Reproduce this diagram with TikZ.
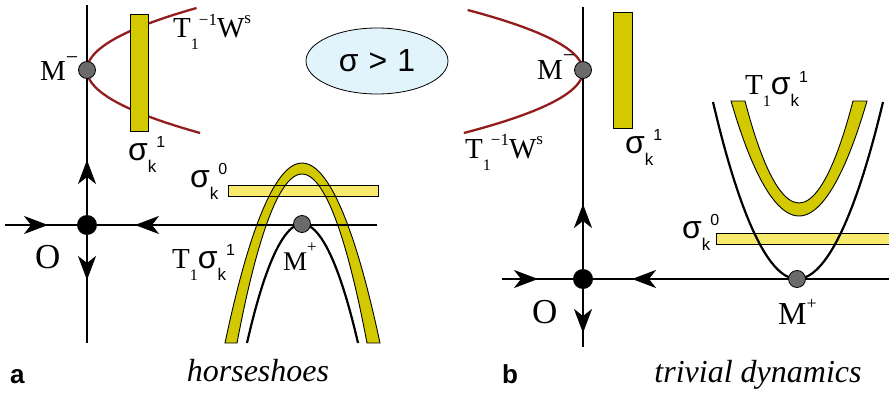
\documentclass[tikz,border=0pt]{standalone}
\usepackage{fontspec}
\setmainfont{Liberation Serif}
\setsansfont{Liberation Sans}
\usetikzlibrary{arrows.meta, shapes.geometric}

\definecolor{hsyellow}{HTML}{D3C900}
\definecolor{baryellow}{HTML}{F8EA6C}
\definecolor{wsred}{HTML}{931C1C}
\definecolor{fixgray}{HTML}{6B6B6B}
\definecolor{condblue}{HTML}{E1F3FB}

\newcommand{\fsz}[1]{\fontsize{#1}{#1}\selectfont}
\newcommand{\sigk}[1]{{\sffamily\fsz{32}σ}\raisebox{-12pt}{\sffamily\fsz{17}k}\raisebox{13pt}{\sffamily\fsz{16}#1}}
\newcommand{\Tone}{{\fsz{29}T}\raisebox{-12pt}{\fsz{16}1}}
\newcommand{\invW}{\Tone\raisebox{13pt}{\fsz{17}−1}{\fsz{29}W}\raisebox{14pt}{\fsz{17}s}}

\begin{document}
\begin{tikzpicture}[x=1pt, y=-1pt, axis/.style={line width=2.4pt}, flow/.style={-{Stealth[length=24pt,width=18pt,inset=7pt]}, line width=2.4pt},
  dot/.style={circle, fill=black, inner sep=0, minimum size=20pt}, fixpt/.style={circle, fill=fixgray, draw=black, line width=0.8pt, inner sep=0, minimum size=17pt},
  wsline/.style={wsred, line width=2.3pt}, curve/.style={line width=2.2pt}, strip/.style={fill=hsyellow, draw=black, line width=0.9pt}, bar/.style={fill=baryellow, draw=black, line width=0.9pt},
  lbl/.style={inner sep=0, anchor=base west}, cond/.style={ellipse, draw=black, line width=0.8pt, fill=condblue, minimum width=142pt, minimum height=66pt, font=\sffamily\fsz{32}},
  caption/.style={inner sep=0, anchor=base, font=\itshape\fsz{32}}, panel/.style={inner sep=0, anchor=base west, font=\sffamily\bfseries\fsz{26}}]
\useasboundingbox (0,0) rectangle (889,396);

% a: horseshoes
\coordinate (Ta) at (87,5); \coordinate (Ba) at (87,343); \coordinate (La) at (5,225); \coordinate (Ra) at (377,225);
\draw[wsline] plot[domain=8:133, samples=50] ({87+0.0285*(\x-70)^2}, \x);
\filldraw[strip] (130,14) rectangle (148,131);
\filldraw[bar] (228,185) rectangle (378,196);
\filldraw[strip] (225,343) parabola bend (302,163) (380,343) -- (367,343) parabola bend (302,174) (237,343) -- cycle;
\draw[line width=0.9pt] (228,185) rectangle (378,196);
\draw[curve] (247,343) parabola bend (302,224) (358,343);
\draw[axis] (Ta) -- (Ba); \draw[axis] (La) -- (Ra);
\draw[flow] (La) -- (48,225); \draw[flow] (Ra) -- (135,225); \draw[flow] (87,225) -- (87,160); \draw[flow] (87,225) -- (87,280);
\node[dot] (Oa) at (87,225) {}; \node[fixpt] (Mma) at (87,70) {}; \node[fixpt] (Mpa) at (302,224) {};
\node[lbl] (Wa) at (173,38) {\invW};
\node[lbl] (s1a) at (128,160) {\sigk{1}}; \node[lbl] (s0a) at (190,187) {\sigk{0}};
\node[lbl] (T1a) at (172,268) {\Tone\sigk{1}};
\node[lbl] (Mlbla) at (40,81) {\fsz{29}M\raisebox{17pt}{\fsz{22}−}};
\node[lbl] (Plbla) at (283,270) {\fsz{27}M\raisebox{18pt}{\fsz{17}+}};
\node[lbl] (Olbla) at (35,268) {\fsz{35}O};
\node[panel] (pa) at (10,383) {a}; \node[caption] (capa) at (258,381) {horseshoes};

\node[cond] (cond) at (377,61) {σ\hspace{10pt}>\hspace{10pt}1};

% b: trivial dynamics
\coordinate (Tb) at (583,7); \coordinate (Bb) at (583,347); \coordinate (Lb) at (502,279); \coordinate (Rb) at (895,279);
\draw[wsline] plot[domain=10:133, samples=50] ({583-0.031*(\x-71)^2}, \x);
\filldraw[strip] (613,12) rectangle (632,128);
\filldraw[strip] (731,101) parabola bend (799,216) (867,101) -- (853,101) parabola bend (799,203) (745,101) -- cycle;
\filldraw[bar] (716,233) rectangle (895,244);
\draw[curve] (713,102) parabola bend (797,279) (883,102);
\draw[axis] (Tb) -- (Bb); \draw[axis] (Lb) -- (Rb);
\draw[flow] (Lb) -- (538,279); \draw[flow] (700,279) -- (632,279); \draw[flow] (583,279) -- (583,204); \draw[flow] (583,279) -- (583,333);
\node[dot] (Ob) at (583,279) {}; \node[fixpt] (Mmb) at (583,70) {}; \node[fixpt] (Mpb) at (797,279) {};
\node[lbl] (Wb) at (465,158) {\invW};
\node[lbl] (s1b) at (625,153) {\sigk{1}}; \node[lbl] (s0b) at (682,238) {\sigk{0}};
\node[lbl] (T1b) at (745,95) {\Tone\sigk{1}};
\node[lbl] (Mlblb) at (537,79) {\fsz{29}M\raisebox{17pt}{\fsz{22}−}};
\node[lbl] (Plblb) at (778,324) {\fsz{32}M\raisebox{15pt}{\fsz{18}+}};
\node[lbl] (Olblb) at (532,323) {\fsz{35}O};
\node[panel] (pb) at (502,383) {b}; \node[caption] (capb) at (758,382) {trivial dynamics};
\end{tikzpicture}
\end{document}
